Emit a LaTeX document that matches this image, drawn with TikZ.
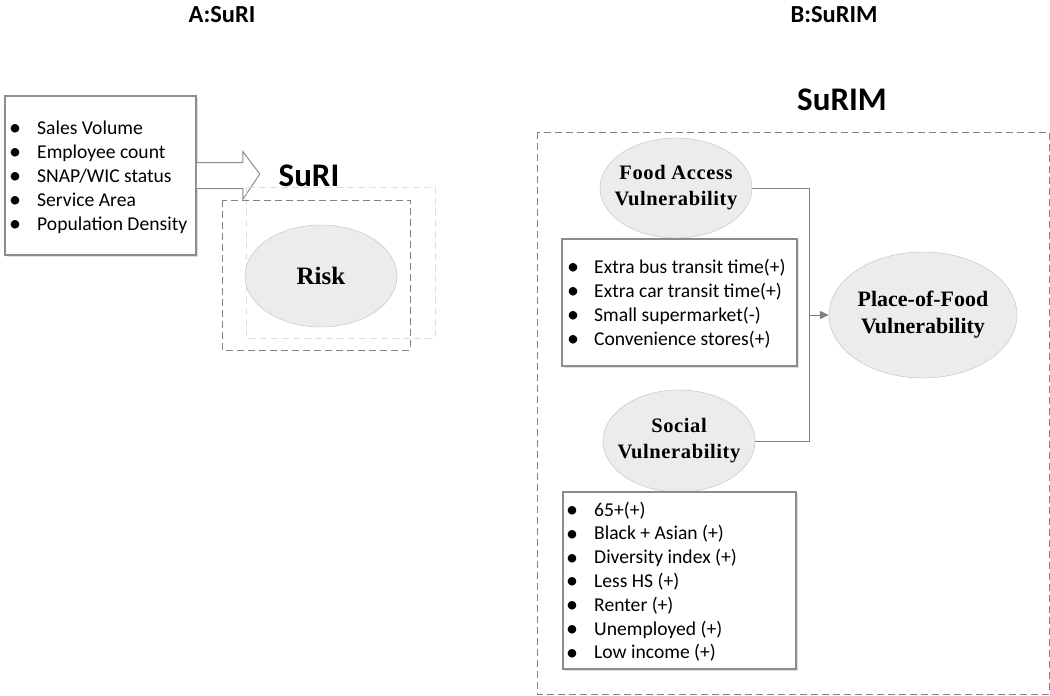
\documentclass[tikz,border=0pt]{standalone}
\usepackage{fontspec}
\setmainfont{Liberation Serif}
\newfontfamily\calfont{Carlito}
\usetikzlibrary{shapes.geometric,calc,arrows.meta,shadows}
\definecolor{ellfill}{RGB}{236,236,236}
\definecolor{ellline}{RGB}{190,190,190}
\definecolor{boxline}{RGB}{140,140,140}
\definecolor{dashdark}{RGB}{130,130,130}
\definecolor{dashlight}{RGB}{215,224,234}
\definecolor{connline}{RGB}{128,128,128}
\tikzset{
  ell/.style={ellipse, draw=ellline, fill=ellfill, inner sep=-12pt, align=center,
    font=\bfseries\fontsize{20.5}{26}\selectfont\addfontfeature{LetterSpace=3}},
  listbox/.style={rectangle, draw=boxline, line width=1.6pt, fill=white, inner sep=0pt,
    drop shadow={shadow xshift=1.5pt, shadow yshift=-1.5pt, opacity=0.25}},
  item/.style={anchor=base west, inner sep=0pt, font=\calfont\fontsize{19.6}{22}\selectfont},
  bul/.style={anchor=base, inner sep=0pt, font=\calfont\fontsize{24}{22}\selectfont},
  head/.style={inner sep=0pt, font=\calfont\bfseries\fontsize{24.5}{28}\selectfont},
  bighead/.style={inner sep=0pt, font=\calfont\bfseries\fontsize{33}{38}\selectfont},
  conn/.style={draw=connline, line width=1pt},
  dashbox/.style={draw=dashdark, line width=1pt, dash pattern=on 7pt off 4pt},
}
\begin{document}
\begin{tikzpicture}[x=1pt,y=-1pt]
\useasboundingbox (0,0) rectangle (1050,696);

% headings
\node[head] (hA) at (222,15) {A:SuRI};
\node[head] (hB) at (834,15) {B:SuRIM};

% ---------- Part A ----------
\node[listbox, minimum width=191pt, minimum height=159pt] (lbox) at (100.5,175.5) {};
\foreach \t [count=\i] in {Sales Volume, Employee count, SNAP/WIC status, Service Area, Population Density}{
  \node[bul] (lb\i) at (15,{135.5+(\i-1)*24}) {\textbullet};
  \node[item] (lt\i) at (37,{134+(\i-1)*24}) {\t};
}

% block arrow
\draw[draw=boxline, fill=white, line width=1pt]
  ($(lbox.east)+(0,-13)$) -- ++(46,0) -- ++(0,-11) -- ++(17,22.5) -- ++(-17,25.5)
  -- ++(0,-11) -- ++(-46,0);

\node[bighead] (suri) at (309,176) {SuRI};

\draw[draw=dashlight, line width=1pt, dash pattern=on 7pt off 4pt] (246,187) rectangle (435,338);
\draw[dashbox] (222,200) rectangle (410,350);
\node[ell, minimum width=152pt, minimum height=102pt, font=\bfseries\fontsize{25}{28}\selectfont] (risk) at (321,276) {Risk};

% ---------- Part B ----------
\node[bighead] (surim) at (842,100) {SuRIM};
\draw[dashbox] (537,132) rectangle (1049,694);

\node[ell, minimum width=152pt, minimum height=100pt] (fav) at (676,188) {Food Access\\Vulnerability};

\node[listbox, minimum width=235pt, minimum height=127pt] (fbox) at (679.5,302.5) {};
\foreach \t [count=\i] in {Extra bus transit time(+), Extra car transit time(+), Small supermarket(-), Convenience stores(+)}{
  \node[bul] (fb\i) at (573,{274.5+(\i-1)*24}) {\textbullet};
  \node[item] (ft\i) at (594,{273+(\i-1)*24}) {\t};
}

\node[ell, minimum width=188pt, minimum height=126pt, font=\bfseries\fontsize{22}{27}\selectfont] (pfv) at (923,315) {Place-of-Food\\Vulnerability};

\node[ell, minimum width=152pt, minimum height=102pt] (sv) at (679,441) {Social\\Vulnerability};

\node[listbox, minimum width=233pt, minimum height=177pt] (sbox) at (679.5,580.5) {};
\foreach \t [count=\i] in {65+(+), Black + Asian (+), Diversity index (+), Less HS (+), Renter (+), Unemployed (+), Low income (+)}{
  \node[bul] (sb\i) at (572,{517.5+(\i-1)*23.8}) {\textbullet};
  \node[item] (st\i) at (594,{516+(\i-1)*23.8}) {\t};
}

% connectors
\coordinate (junc) at (809,315);
\draw[conn] (fav.east) -| (junc);
\draw[conn] (sv.east) -| (junc);
\draw[conn, -{Triangle[length=9pt,width=8pt,fill=connline]}] (junc) -- (pfv.west);
\end{tikzpicture}
\end{document}
